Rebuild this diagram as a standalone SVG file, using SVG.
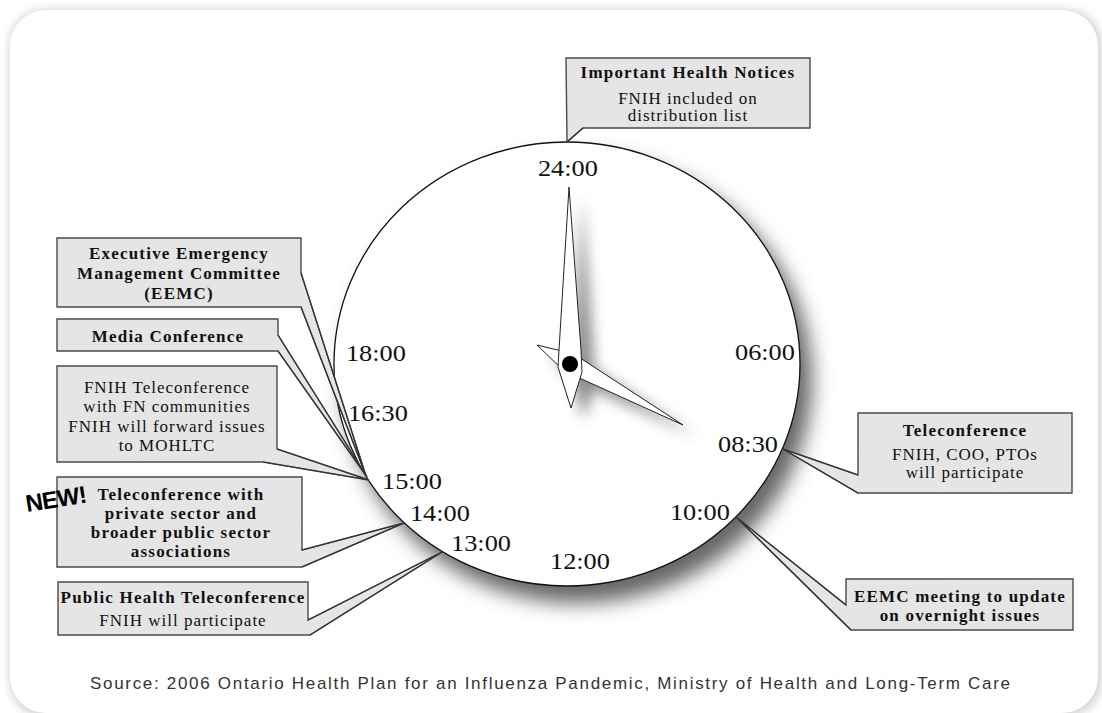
<svg xmlns="http://www.w3.org/2000/svg" width="1102" height="713" viewBox="0 0 1102 713">
<defs>
<filter id="cardSh" x="-5%" y="-5%" width="110%" height="110%"><feGaussianBlur stdDeviation="4"/></filter>
<filter id="clockSh" x="-20%" y="-20%" width="140%" height="140%"><feGaussianBlur stdDeviation="10"/></filter>
<filter id="handSh" x="-50%" y="-50%" width="200%" height="200%"><feGaussianBlur stdDeviation="7"/></filter>
<style>
.box{fill:#e5e5e5;stroke:#4a4a4a;stroke-width:1.4;stroke-linejoin:miter}
.tail{fill:none;stroke:#333;stroke-width:1.2}
.t{font-family:"Liberation Serif",serif;font-size:17px;fill:#111;text-anchor:middle;letter-spacing:1px}
.b{font-weight:bold;letter-spacing:1.2px}
.lbl{font-family:"Liberation Serif",serif;font-size:22.5px;fill:#111}
.hand{fill:#fff;stroke:#222;stroke-width:1;stroke-linejoin:miter}
</style>
</defs>
<rect width="1102" height="713" fill="#fff"/>
<rect x="9" y="9" width="1093" height="708" rx="36" fill="#d6d6d6" filter="url(#cardSh)"/>
<rect x="10" y="10" width="1088" height="703" rx="36" fill="#fff"/>

<g id="clock">
<ellipse cx="578" cy="380" rx="234" ry="223" fill="#666" filter="url(#clockSh)"/>
<ellipse cx="567" cy="364" rx="233" ry="222" fill="#fff" stroke="#111" stroke-width="1.3"/>
<g transform="translate(13,11)" fill="#777" opacity="0.85" filter="url(#handSh)">
<polygon points="537,345 574,354 683,425 564,371"/>
<polygon points="569,187 581,350 582,374 571,408 558,368 559,350"/>
</g>
<polygon class="hand" points="537,345 574,354 683,425 564,371"/>
<polygon class="hand" points="569,187 581,350 582,372 571,408 558,367 559,350"/>
<circle cx="570" cy="364" r="8" fill="#000"/>
<g transform="scale(1.17,1)">
<text class="lbl" x="459.8" y="176">24:00</text>
<text class="lbl" x="295.7" y="361">18:00</text>
<text class="lbl" x="297.4" y="421">16:30</text>
<text class="lbl" x="326.5" y="489">15:00</text>
<text class="lbl" x="350.4" y="521">14:00</text>
<text class="lbl" x="385.5" y="551">13:00</text>
<text class="lbl" x="470.1" y="569">12:00</text>
<text class="lbl" x="572.6" y="520">10:00</text>
<text class="lbl" x="613.7" y="452">08:30</text>
<text class="lbl" x="628.2" y="360">06:00</text>
</g>
</g>

<g id="node-health-notices">
<path class="box" d="M566,58 H810 V128 H583 L567,142 Z"/>
<text class="t b" x="688" y="78">Important Health Notices</text>
<text class="t" x="688" y="104">FNIH included on</text>
<text class="t" x="688" y="121">distribution list</text>
</g>

<g id="node-eemc">
<path class="box" d="M57,238 H301 V273 L366,476 L301,307 H57 Z"/>
<text class="t b" x="179" y="259">Executive Emergency</text>
<text class="t b" x="179" y="279">Management Committee</text>
<text class="t b" x="179" y="299">(EEMC)</text>
</g>

<g id="node-media">
<path class="box" d="M57,319 H278 V335 L367,477 L278,351 H57 Z"/>
<text class="t b" x="168" y="342">Media Conference</text>
</g>

<g id="node-fnih-teleconf">
<path class="box" d="M57,366 H277 V449 L369,480 L263,462 H57 Z"/>
<text class="t" x="167" y="393">FNIH Teleconference</text>
<text class="t" x="167" y="412">with FN communities</text>
<text class="t" x="167" y="432">FNIH will forward issues</text>
<text class="t" x="167" y="451">to MOHLTC</text>
</g>

<g id="node-private-sector">
<path class="box" d="M57,477 H302 V550 L404,523 L302,567 H57 Z"/>
<text class="t b" x="181" y="500">Teleconference with</text>
<text class="t b" x="181" y="519">private sector and</text>
<text class="t b" x="181" y="538">broader public sector</text>
<text class="t b" x="181" y="557">associations</text>
<text x="27" y="512" transform="rotate(-9 27 512)" font-family="'Liberation Sans',Arial,sans-serif" font-weight="bold" font-size="24" letter-spacing="-0.8" fill="#000">NEW!</text>
</g>

<g id="node-public-health">
<path class="box" d="M58,582 H308 V620 L442,552 L310,635 H58 Z"/>
<text class="t b" x="183" y="603">Public Health Teleconference</text>
<text class="t" x="183" y="626">FNIH will participate</text>
</g>

<g id="node-teleconference">
<path class="box" d="M858,413 H1072 V493 H858 L783,449 L858,475 Z"/>
<text class="t b" x="965" y="436">Teleconference</text>
<text class="t" x="965" y="460">FNIH, COO, PTOs</text>
<text class="t" x="965" y="478">will participate</text>
</g>

<g id="node-eemc-meeting">
<path class="box" d="M846,579 H1073 V630 H851 L736,517 L846,605 Z"/>
<text class="t b" x="960" y="602">EEMC meeting to update</text>
<text class="t b" x="960" y="621">on overnight issues</text>
</g>

<g id="connectors">
<polyline class="tail" points="583,128 567,142"/>
<polyline class="tail" points="301,273 366,476 301,307"/>
<polyline class="tail" points="278,335 367,477 278,351"/>
<polyline class="tail" points="277,449 369,480 263,462"/>
<polyline class="tail" points="302,550 404,523 302,567"/>
<polyline class="tail" points="308,620 442,552 310,635"/>
<polyline class="tail" points="858,475 783,449 858,493"/>
<polyline class="tail" points="846,605 736,517 851,630"/>
</g>

<text x="90" y="689" textLength="920" font-family="'Liberation Sans',Arial,sans-serif" font-size="17" fill="#333">Source: 2006 Ontario Health Plan for an Influenza Pandemic, Ministry of Health and Long-Term Care</text>
</svg>
